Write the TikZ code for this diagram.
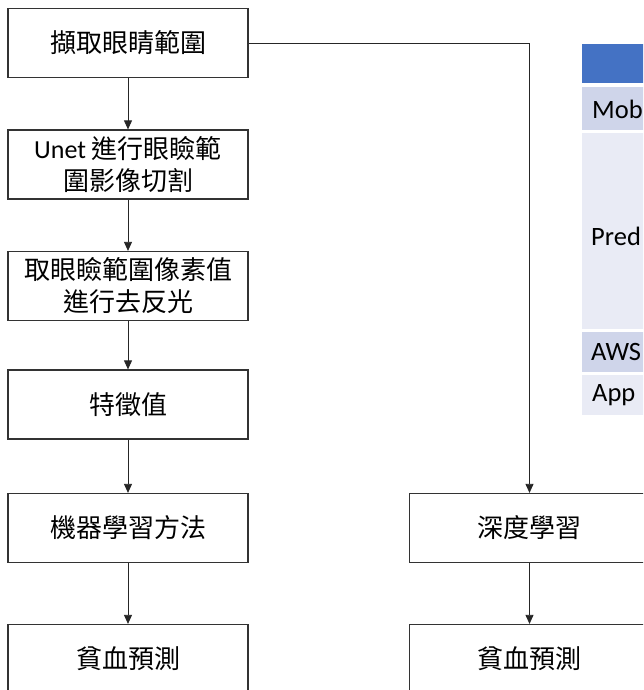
\documentclass[tikz,border=0pt]{standalone}
\usepackage{fontspec}
\setmainfont{Carlito}
\newfontfamily\cjk{Noto Sans CJK TC}
\usetikzlibrary{arrows.meta}
\definecolor{hdrblue}{HTML}{4472C4}
\definecolor{banddark}{HTML}{CFD5EA}
\definecolor{bandlight}{HTML}{E9EBF5}
\tikzset{
	stepbox/.style={draw=black!80, line width=1.2pt, minimum width=240pt, minimum height=69pt, inner sep=0pt, align=center, font=\cjk\fontsize{26}{32}\selectfont},
	flow/.style={-{Triangle[length=9pt,width=8pt]}, line width=0.8pt, draw=black!85},
	tabtext/.style={anchor=west, inner sep=0pt, font=\fontsize{26.5}{30}\selectfont}
}

\begin{document}
\begin{tikzpicture}[x=1pt,y=-1pt]
		\useasboundingbox (0,0) rectangle (643,690);
		\clip (0,0) rectangle (643,690);
		\fill[hdrblue] (582,44) rectangle (650,83);
		\fill[banddark] (582,87) rectangle (650,130);
		\fill[bandlight] (582,133) rectangle (650,329);
		\fill[banddark] (582,332) rectangle (650,372);
		\fill[bandlight] (582,375) rectangle (650,415);
		\node[tabtext] (mob) at (592,109) {Mob};
		\node[tabtext] (pred) at (591,236) {Pred};
		\node[tabtext] (aws) at (591,352) {AWS};
		\node[tabtext] (app) at (592,395) {App};
		\node[stepbox] (crop) at (128,43) {擷取眼睛範圍};
		\node[stepbox] (unet) at (128,164.5) {{\rmfamily Unet} 進行眼瞼範\\圍影像切割};
		\node[stepbox] (glare) at (128,286) {取眼瞼範圍像素值\\進行去反光};
		\node[stepbox] (feat) at (128,404.5) {特徵值};
		\node[stepbox] (ml) at (128,528) {機器學習方法};
		\node[stepbox] (anemia1) at (128,659) {貧血預測};
		\node[stepbox] (dl) at (529.5,528) {深度學習};
		\node[stepbox] (anemia2) at (529.5,659) {貧血預測};
		\draw[flow] (crop) -- (unet);
		\draw[flow] (unet) -- (glare);
		\draw[flow] (glare) -- (feat);
		\draw[flow] (feat) -- (ml);
		\draw[flow] (ml) -- (anemia1);
		\draw[flow] (crop.east) -| (dl.north);
		\draw[flow] (dl) -- (anemia2);
	\end{tikzpicture}
\end{document}
